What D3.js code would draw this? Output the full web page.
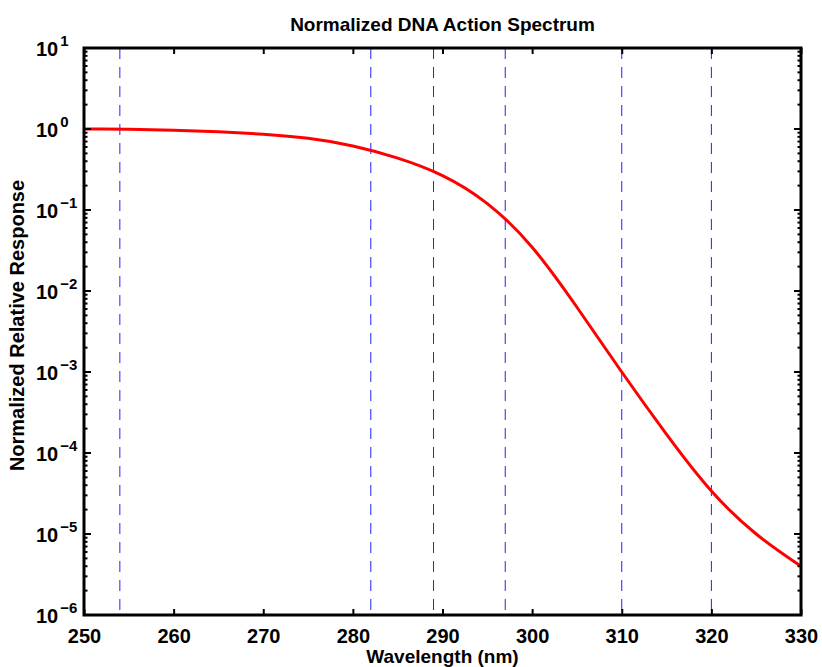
<!DOCTYPE html>
<html>
<head>
<meta charset="utf-8">
<script src="https://cdn.jsdelivr.net/npm/d3@7"></script>
<style>
  body { margin: 0; background: #fff; }
  text { font-family: "Liberation Sans", Arial, Helvetica, sans-serif; font-weight: bold; fill: #000; }
</style>
</head>
<body>
<div id="chart"></div>
<script>
// data
var wavelength = [250, 255, 260, 265, 270, 275, 280, 285, 290, 295, 300, 305, 310, 315, 320, 325, 330];
var response   = [1.0, 0.991, 0.966, 0.923, 0.861, 0.767, 0.617, 0.437, 0.266, 0.120, 0.0347, 6.3e-3, 1.0e-3, 1.7e-4, 3.4e-5, 1.0e-5, 4.0e-6];
var markerWavelengths = [254, 282, 289, 297, 310, 320];
var xTickValues = [250, 260, 270, 280, 290, 300, 310, 320, 330];
var yExponents  = [-6, -5, -4, -3, -2, -1, 0, 1];

var cx = 822, cy = 667;
// paddings round the plot box
var padding = { top: 48, right: 21, bottom: 52, left: 84 };
var size = {
  width:  cx - padding.left - padding.right,
  height: cy - padding.top - padding.bottom
};

var svg = d3.select("#chart").append("svg")
    .attr("width", cx)
    .attr("height", cy);

var vis = svg.append("g")
    .attr("transform", "translate(" + padding.left + "," + padding.top + ")");

var x = d3.scaleLinear().domain([250, 330]).range([0, size.width]);
var y = d3.scaleLog().domain([1e-6, 10]).range([size.height, 0]);

// dashed marker lines
vis.selectAll(".marker")
  .data(markerWavelengths)
  .enter().append("line")
    .attr("class", "marker")
    .attr("x1", function(d) { return x(d); })
    .attr("x2", function(d) { return x(d); })
    .attr("y1", 0)
    .attr("y2", size.height)
    .style("stroke", "#2020ff")
    .style("stroke-width", 1)
    .style("stroke-dasharray", "11,8");

// the response curve
var points = wavelength.map(function(w, i) { return [w, response[i]]; });
var line = d3.line()
    .x(function(d) { return x(d[0]); })
    .y(function(d) { return y(d[1]); })
    .curve(d3.curveNatural);

vis.append("path")
    .datum(points)
    .attr("d", line)
    .style("fill", "none")
    .style("stroke", "#ff0000")
    .style("stroke-width", 3);

// x ticks, bottom with labels, top without
vis.append("g")
    .attr("transform", "translate(0," + size.height + ")")
    .call(d3.axisBottom(x).tickValues(xTickValues).tickSizeInner(-6).tickSizeOuter(0).tickPadding(14))
    .call(function(g) {
      g.select(".domain").remove();
      g.selectAll(".tick line").style("stroke", "#000").style("stroke-width", 2);
      g.selectAll(".tick text").style("font-size", "20px").style("font-family", null);
    });

vis.append("g")
    .call(d3.axisTop(x).tickValues(xTickValues).tickSizeInner(-6).tickSizeOuter(0).tickFormat(""))
    .call(function(g) {
      g.select(".domain").remove();
      g.selectAll(".tick line").style("stroke", "#000").style("stroke-width", 2);
    });

// y ticks on both sides: majors at decades, minors between
var yTicks = y.ticks();
function isMajor(v) { return Math.abs(Math.log10(v) - Math.round(Math.log10(v))) < 1e-9; }

[0, size.width].forEach(function(xPos, side) {
  var dir = side === 0 ? 1 : -1;
  vis.selectAll(".ytick" + side)
    .data(yTicks)
    .enter().append("line")
      .attr("x1", xPos)
      .attr("x2", function(d) { return xPos + dir * (isMajor(d) ? 7 : 3.5); })
      .attr("y1", function(d) { return y(d); })
      .attr("y2", function(d) { return y(d); })
      .style("stroke", "#000")
      .style("stroke-width", 2);
});

// y tick labels as 10 with a raised exponent
var yLabels = svg.selectAll(".ylabel")
  .data(yExponents)
  .enter().append("text")
    .attr("class", "ylabel")
    .attr("x", 36)
    .attr("y", function(d) { return padding.top + y(Math.pow(10, d)) + 8; })
    .style("font-size", "20px");

yLabels.append("tspan").text("10");
yLabels.append("tspan")
    .attr("dx", 2)
    .attr("dy", -10)
    .style("font-size", "15px")
    .text(function(d) { return d < 0 ? "\u2212" + (-d) : String(d); });

// plot frame
vis.append("rect")
    .attr("width", size.width)
    .attr("height", size.height)
    .style("fill", "none")
    .style("stroke", "#000")
    .style("stroke-width", 3);

// titles
svg.append("text")
    .attr("x", padding.left + size.width / 2)
    .attr("y", 31)
    .attr("text-anchor", "middle")
    .style("font-size", "19px")
    .text("Normalized DNA Action Spectrum");

svg.append("text")
    .attr("x", padding.left + size.width / 2)
    .attr("y", 663)
    .attr("text-anchor", "middle")
    .style("font-size", "19px")
    .text("Wavelength (nm)");

svg.append("text")
    .attr("transform", "translate(24," + (padding.top + size.height / 2 - 6) + ") rotate(-90)")
    .attr("text-anchor", "middle")
    .style("font-size", "20px")
    .text("Normalized Relative Response");
</script>
</body>
</html>
